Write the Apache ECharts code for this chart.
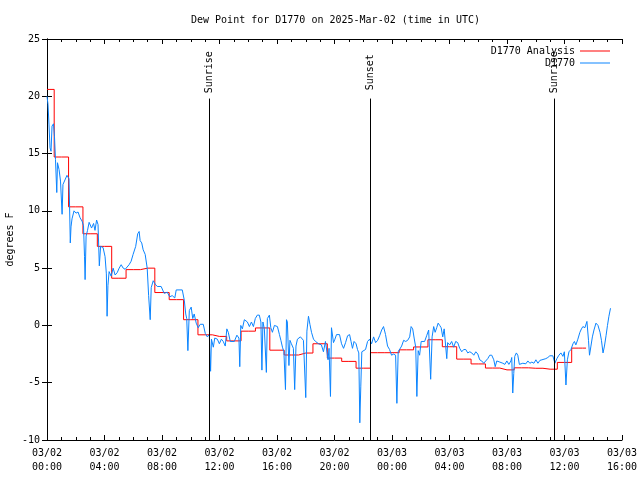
<!DOCTYPE html>
<html>
<head>
<meta charset="utf-8">
<script src="https://cdn.jsdelivr.net/npm/echarts@6/dist/echarts.min.js"></script>
<style>html,body{margin:0;padding:0;background:#fff;}#c{width:640px;height:480px;}</style>
</head>
<body>
<div id="c"></div>
<script>
// hours since 2025-03-02 00:00 UTC
const xTickLabels = ['03/02\n00:00','03/02\n04:00','03/02\n08:00','03/02\n12:00','03/02\n16:00','03/02\n20:00','03/03\n00:00','03/03\n04:00','03/03\n08:00','03/03\n12:00','03/03\n16:00'];
const yTicks = [-10, -5, 0, 5, 10, 15, 20, 25];

// hourly analysis values (hour 0 .. 37)
const analysis = [20.6,14.7,10.35,8.0,6.9,4.12,4.87,5.0,2.87,2.25,0.5,-0.82,-0.96,-1.35,-0.5,-0.22,-2.16,-2.58,-2.41,-1.6,-2.85,-3.14,-3.73,-2.38,-2.38,-2.13,-1.88,-1.25,-1.86,-2.94,-3.36,-3.72,-3.88,-3.7,-3.74,-3.82,-3.23,-1.98];
const analysisEndHour = 37.5;

// observations [hour, dew point F]
const observed = [[0.00,20.0],[0.07,19.3],[0.14,17.5],[0.21,15.5],[0.28,15.2],[0.35,17.4],[0.45,17.6],[0.52,16.5],[0.59,14.5],[0.68,11.6],[0.73,14.2],[0.84,13.6],[0.94,12.6],[1.05,9.7],[1.11,12.3],[1.25,12.7],[1.39,13.1],[1.53,12.8],[1.57,10.4],[1.62,7.2],[1.67,8.6],[1.74,9.3],[1.88,10.0],[2.02,9.8],[2.16,9.9],[2.30,9.4],[2.44,9.1],[2.54,8.7],[2.61,6.0],[2.65,4.0],[2.72,7.8],[2.82,8.3],[2.93,9.0],[3.10,8.5],[3.24,8.9],[3.34,8.3],[3.45,9.2],[3.55,8.8],[3.64,5.2],[3.73,6.9],[3.90,6.8],[4.04,6.0],[4.13,4.5],[4.18,0.8],[4.24,3.5],[4.32,4.7],[4.46,4.3],[4.60,5.0],[4.74,4.4],[4.88,4.6],[5.02,5.0],[5.16,5.3],[5.30,5.0],[5.44,4.9],[5.57,4.9],[5.71,5.3],[5.85,5.6],[5.99,6.2],[6.17,6.9],[6.31,8.0],[6.41,8.2],[6.48,7.4],[6.59,7.2],[6.69,6.6],[6.83,6.2],[6.97,5.0],[7.07,2.6],[7.18,0.5],[7.25,3.3],[7.39,3.9],[7.53,3.6],[7.67,3.4],[7.94,3.4],[8.15,2.8],[8.36,2.9],[8.54,2.5],[8.71,2.6],[8.89,2.4],[8.99,3.1],[9.41,3.1],[9.55,2.2],[9.65,1.0],[9.72,0.6],[9.80,-2.2],[9.90,1.3],[10.03,1.6],[10.14,0.6],[10.24,1.0],[10.38,0.2],[10.52,-0.2],[10.66,0.1],[10.87,0.1],[11.01,-0.7],[11.15,-1.0],[11.29,-0.8],[11.38,-4.0],[11.44,-1.2],[11.57,-1.9],[11.67,-1.1],[11.85,-1.2],[11.99,-1.6],[12.13,-1.2],[12.26,-1.4],[12.40,-1.8],[12.51,-0.3],[12.61,-0.6],[12.75,-1.4],[13.03,-1.4],[13.21,-0.85],[13.35,-1.1],[13.41,-3.6],[13.48,0.0],[13.59,-0.3],[13.73,0.5],[13.94,0.3],[14.08,-0.1],[14.22,0.3],[14.36,-0.1],[14.49,0.6],[14.63,0.9],[14.77,0.9],[14.88,0.3],[14.95,-3.9],[15.02,0.3],[15.12,-0.3],[15.26,-4.1],[15.33,0.6],[15.47,0.9],[15.57,-0.2],[15.68,-0.6],[15.82,0.0],[16.03,-0.1],[16.17,-0.8],[16.27,-1.3],[16.38,-1.9],[16.48,-2.3],[16.59,-5.6],[16.66,0.5],[16.72,0.3],[16.83,-3.5],[16.90,-1.3],[17.00,-1.6],[17.14,-2.0],[17.23,-5.6],[17.32,-1.8],[17.42,-1.2],[17.63,-1.0],[17.84,-1.3],[17.94,-1.2],[18.00,-6.3],[18.08,-0.5],[18.19,0.8],[18.29,0.1],[18.40,-0.6],[18.54,-1.2],[18.68,-1.4],[18.89,-1.6],[19.09,-1.7],[19.23,-2.3],[19.37,-1.4],[19.44,-1.5],[19.55,-3.0],[19.62,-2.0],[19.72,-6.2],[19.79,-0.2],[19.93,-1.5],[20.03,-1.2],[20.14,-0.8],[20.35,-0.8],[20.49,-1.6],[20.63,-2.0],[20.77,-1.5],[20.91,-0.9],[21.05,-0.8],[21.15,-1.4],[21.25,-2.0],[21.36,-1.4],[21.50,-1.6],[21.60,-2.1],[21.69,-2.4],[21.76,-8.5],[21.83,-5.3],[21.90,-2.3],[22.02,-2.4],[22.16,-2.1],[22.30,-1.4],[22.44,-1.2],[22.58,-1.6],[22.72,-1.0],[22.86,-1.5],[23.00,-1.3],[23.14,-0.9],[23.28,-0.4],[23.41,-0.1],[23.55,-0.8],[23.69,-1.8],[23.83,-2.1],[23.97,-2.6],[24.11,-2.5],[24.25,-2.6],[24.34,-6.8],[24.43,-2.3],[24.53,-2.2],[24.67,-1.8],[24.81,-1.3],[24.95,-1.4],[25.09,-1.3],[25.23,-1.0],[25.33,-0.1],[25.44,-0.3],[25.54,-1.1],[25.65,-1.9],[25.73,-6.2],[25.82,-2.2],[25.92,-2.6],[26.03,-1.4],[26.27,-1.4],[26.41,-0.9],[26.55,-0.4],[26.69,-4.7],[26.79,-1.0],[26.90,-0.1],[27.00,-0.6],[27.11,-0.2],[27.21,0.2],[27.32,0.0],[27.42,-0.2],[27.53,-1.0],[27.63,-0.3],[27.74,-1.9],[27.81,-2.9],[27.87,-1.5],[28.01,-1.7],[28.15,-1.4],[28.29,-1.9],[28.43,-1.4],[28.57,-1.5],[28.71,-2.0],[28.85,-2.3],[28.99,-2.1],[29.13,-2.1],[29.27,-2.4],[29.41,-2.3],[29.55,-2.4],[29.69,-2.6],[29.83,-2.3],[29.97,-2.5],[30.10,-3.0],[30.24,-3.1],[30.38,-3.3],[30.52,-3.1],[30.66,-2.9],[30.80,-2.6],[30.94,-2.6],[31.08,-3.0],[31.18,-3.6],[31.29,-3.1],[31.50,-3.2],[31.71,-3.3],[31.85,-3.4],[31.99,-3.1],[32.13,-3.4],[32.27,-3.1],[32.33,-2.8],[32.40,-5.9],[32.47,-4.2],[32.54,-2.7],[32.65,-2.4],[32.75,-2.6],[32.86,-3.4],[32.96,-3.5],[33.10,-3.3],[33.31,-3.35],[33.45,-3.1],[33.59,-3.3],[33.73,-3.2],[33.87,-3.3],[34.01,-3.0],[34.15,-3.3],[34.29,-3.05],[34.43,-3.0],[34.56,-3.1],[34.70,-2.9],[34.84,-2.8],[34.98,-2.65],[35.19,-2.65],[35.33,-3.3],[35.47,-2.9],[35.61,-2.6],[35.75,-2.4],[35.89,-2.7],[35.99,-2.3],[36.10,-5.2],[36.20,-3.0],[36.31,-2.3],[36.45,-2.1],[36.59,-1.6],[36.69,-1.4],[36.79,-1.7],[36.93,-1.2],[37.07,-0.6],[37.18,-0.3],[37.28,-0.1],[37.42,-0.2],[37.56,0.35],[37.67,-1.3],[37.74,-2.6],[37.84,-1.8],[37.94,-1.0],[38.05,-0.4],[38.19,0.2],[38.33,0.0],[38.47,-0.6],[38.57,-1.3],[38.68,-2.4],[38.78,-1.8],[38.89,-0.9],[38.99,0.0],[39.09,0.8],[39.20,1.5]];

// sun events
const sunEventNames = ['Sunrise', 'Sunset', 'Sunrise'];
const sunEventHours = [11.28, 22.46, 35.27];
const sunLineTop = 19.8;
const sunLabelY = 22.1;

const FONT = 'DejaVu Sans Mono';

const analysisData = analysis.map((v, i) => [i, v]);
analysisData.push([analysisEndHour, analysis[analysis.length - 1]]);

const chart = echarts.init(document.getElementById('c'), null, {renderer: 'canvas'});

const yBase = {
  type: 'value', min: -10, max: 25, interval: 5,
  axisLine: {show: true, lineStyle: {color: '#000', width: 1}},
  axisTick: {show: true, inside: true, length: 5, lineStyle: {color: '#000'}},
  splitLine: {show: false}
};
const xBase = {
  type: 'value', min: 0, max: 40, interval: 4,
  axisLine: {show: true, onZero: false, lineStyle: {color: '#000', width: 1}},
  axisTick: {show: true, inside: true, length: 5, lineStyle: {color: '#000'}},
  minorTick: {show: true, splitNumber: 4, length: 3, lineStyle: {color: '#000'}},
  splitLine: {show: false}, minorSplitLine: {show: false}
};
const legendBase = {
  right: 30, align: 'right', itemWidth: 30, itemHeight: 1, icon: 'rect', padding: 0, itemGap: 0,
  textStyle: {fontFamily: FONT, fontSize: 10, color: '#000'}, selectedMode: false
};

chart.setOption({
  animation: false,
  backgroundColor: '#fff',
  textStyle: {fontFamily: FONT},
  title: {
    text: 'Dew Point for D1770 on 2025-Mar-02 (time in UTC)',
    left: 186, top: 10,
    textStyle: {fontFamily: FONT, fontSize: 10, fontWeight: 'normal', color: '#000'}
  },
  legend: [
    Object.assign({}, legendBase, {data: ['D1770 Analysis'], top: 46}),
    Object.assign({}, legendBase, {data: ['D1770'], top: 58})
  ],
  grid: {left: 47, right: 18, top: 39, bottom: 40, containLabel: false, outerBoundsMode: 'none'},
  xAxis: [
    Object.assign({}, xBase, {
      position: 'bottom',
      axisLabel: {show: true, color: '#000', fontFamily: FONT, fontSize: 10, lineHeight: 14, margin: 6,
        showMinLabel: true, showMaxLabel: true, hideOverlap: false,
        formatter: v => xTickLabels[Math.round(v / 4)] || ''}
    }),
    Object.assign({}, xBase, {position: 'top', axisLabel: {show: false}})
  ],
  yAxis: [
    Object.assign({}, yBase, {
      position: 'left',
      name: 'degrees F', nameLocation: 'middle', nameGap: 32, nameRotate: 90, nameMoveOverlap: false,
      nameTextStyle: {fontFamily: FONT, fontSize: 10, color: '#000'},
      axisLabel: {show: true, color: '#000', fontFamily: FONT, fontSize: 10, margin: 7,
        formatter: v => String(yTicks[yTicks.indexOf(v)])}
    }),
    Object.assign({}, yBase, {position: 'right', axisLabel: {show: false}})
  ],
  series: [
    {
      name: 'D1770 Analysis', type: 'line', step: 'middle', data: analysisData,
      symbol: 'none', showSymbol: false, color: '#ff0000',
      lineStyle: {color: '#ff0000', width: 1}, z: 3
    },
    {
      name: 'D1770', type: 'line', data: observed,
      symbol: 'none', showSymbol: false, color: '#0a84ff',
      lineStyle: {color: '#0a84ff', width: 1}, z: 4
    },
    {
      name: 'sun', type: 'custom', data: sunEventHours.map(h => [h]), z: 5,
      silent: true,
      renderItem: function (params, api) {
        const h = api.value(0);
        const p0 = api.coord([h, -10]);
        const p1 = api.coord([h, sunLineTop]);
        const pt = api.coord([h, sunLabelY]);
        const x = Math.round(p0[0]) + 0.5;
        return {
          type: 'group',
          children: [
            {type: 'line', shape: {x1: x, y1: p0[1], x2: x, y2: p1[1]}, style: {stroke: '#000', lineWidth: 1}},
            {type: 'text', x: x, y: pt[1], rotation: Math.PI / 2,
              style: {text: sunEventNames[params.dataIndex], fill: '#000', font: '10px ' + FONT,
                align: 'center', verticalAlign: 'middle'}}
          ]
        };
      }
    }
  ]
});
</script>
</body>
</html>
